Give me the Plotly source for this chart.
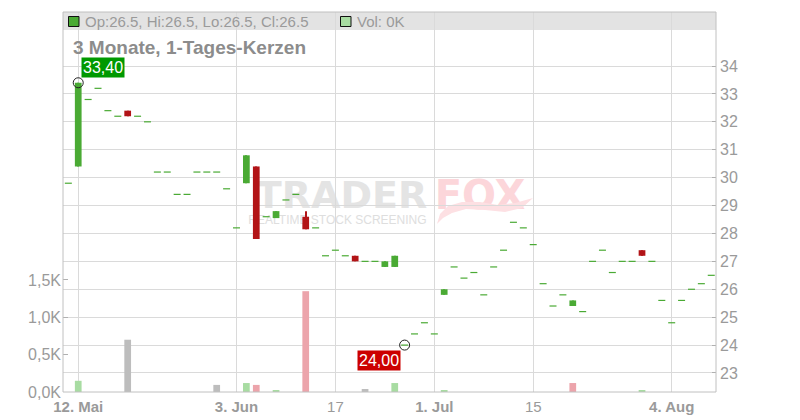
import plotly.graph_objects as go
import pandas as pd

# ---------------- data ----------------
dates = pd.bdate_range("2025-05-09", "2025-08-08").strftime("%Y-%m-%d").tolist()

open_ = [29.8, 30.4, 32.8, 33.2, 32.4, 32.2, 32.4, 32.2, 32.0, 30.2, 30.2, 29.4, 29.4, 30.2, 30.2, 30.2,
         29.6, 28.2, 29.8, 30.4, 28.6, 28.55, 29.2, 29.4, 28.6, 28.2, 27.2, 27.4, 27.2, 27.2, 27.0, 27.0,
         26.8, 26.8, 24.0, 24.4, 24.8, 24.4, 25.8, 26.8, 26.4, 26.6, 25.8, 26.8, 27.4, 28.4, 28.2, 27.6,
         26.2, 25.4, 25.8, 25.4, 25.2, 27.0, 27.4, 26.6, 27.0, 27.0, 27.4, 27.0, 25.6, 24.8, 25.6, 26.0,
         26.2, 26.5]
high = [29.8, 33.4, 32.8, 33.2, 32.4, 32.2, 32.4, 32.2, 32.0, 30.2, 30.2, 29.4, 29.4, 30.2, 30.2, 30.2,
        29.6, 28.2, 30.8, 30.4, 28.6, 28.8, 29.2, 29.4, 28.8, 28.2, 27.2, 27.4, 27.2, 27.2, 27.0, 27.0,
        27.0, 27.2, 24.0, 24.4, 24.8, 24.4, 26.0, 26.8, 26.4, 26.6, 25.8, 26.8, 27.4, 28.4, 28.2, 27.6,
        26.2, 25.4, 25.8, 25.6, 25.2, 27.0, 27.4, 26.6, 27.0, 27.0, 27.4, 27.0, 25.6, 24.8, 25.6, 26.0,
        26.2, 26.5]
low = [29.8, 30.4, 32.8, 33.2, 32.4, 32.2, 32.2, 32.2, 32.0, 30.2, 30.2, 29.4, 29.4, 30.2, 30.2, 30.2,
       29.6, 28.2, 29.8, 27.8, 28.6, 28.55, 29.2, 29.4, 28.15, 28.2, 27.2, 27.4, 27.2, 27.0, 27.0, 27.0,
       26.8, 26.8, 24.0, 24.4, 24.8, 24.4, 25.8, 26.8, 26.4, 26.6, 25.8, 26.8, 27.4, 28.4, 28.2, 27.6,
       26.2, 25.4, 25.8, 25.4, 25.2, 27.0, 27.4, 26.6, 27.0, 27.0, 27.2, 27.0, 25.6, 24.8, 25.6, 26.0,
       26.2, 26.5]
close = [29.8, 33.4, 32.8, 33.2, 32.4, 32.2, 32.2, 32.2, 32.0, 30.2, 30.2, 29.4, 29.4, 30.2, 30.2, 30.2,
         29.6, 28.2, 30.8, 27.8, 28.6, 28.8, 29.2, 29.4, 28.15, 28.2, 27.2, 27.4, 27.2, 27.0, 27.0, 27.0,
         27.0, 27.2, 24.0, 24.4, 24.8, 24.4, 26.0, 26.8, 26.4, 26.6, 25.8, 26.8, 27.4, 28.4, 28.2, 27.6,
         26.2, 25.4, 25.8, 25.6, 25.2, 27.0, 27.4, 26.6, 27.0, 27.0, 27.2, 27.0, 25.6, 24.8, 25.6, 26.0,
         26.2, 26.5]
volume = [0, 150, 0, 0, 0, 0, 700, 0, 0, 0, 0, 0, 0, 0, 0, 95,
          0, 0, 120, 95, 0, 25, 0, 0, 1350, 0, 0, 0, 0, 0, 40, 0,
          0, 120, 0, 0, 0, 0, 25, 0, 0, 0, 0, 0, 0, 0, 0, 0,
          0, 0, 0, 120, 0, 0, 0, 0, 0, 0, 15, 0, 0, 0, 0, 0,
          0, 0]

tick_dates = ["2025-05-12", "2025-06-03", "2025-06-17", "2025-07-01", "2025-07-15", "2025-08-04"]
tick_text = ["<b>12. Mai</b>", "<b>3. Jun</b>", "17", "<b>1. Jul</b>", "15", "<b>4. Aug</b>"]
price_ticks = [23, 24, 25, 26, 27, 28, 29, 30, 31, 32, 33, 34]
vol_ticks = [0, 500, 1000, 1500]
vol_tick_text = ["0,0K", "0,5K", "1,0K", "1,5K"]
title_text = "3 Monate, 1-Tages-Kerzen"

# ---------------- styles ----------------
GREEN = "#4aaa34"
RED = "#b21417"
VOL_UP = "#a8dca2"
VOL_DOWN = "#eca4ab"
VOL_FLAT = "#bdbdbd"
GRID = "#dadada"
FRAME = "#c0c0c0"
TXT = "#9a9a9a"
FONT = "Liberation Sans, Arial, sans-serif"

# page body has an 8px default margin -> compensate so the plot area sits at (63..716, 12..392)
OFF = 8
W, H = 800, 420
PL, PT, PW, PH = 63, 12, 653, 380
L = PL - OFF
T = PT - OFF
R = W - L - PW
B = H - T - PH


def px(x):
    return (x - PL) / PW


def py(y):
    return (PT + PH - y) / PH


# derived marks
body_x, body_base, body_h, body_col, wick_low, wick_len = [], [], [], [], [], []
doji_x, doji_y = [], []
for d, o, h, l, c in zip(dates, open_, high, low, close):
    if o == c:
        doji_x.append(d)
        doji_y.append(c)
    else:
        body_x.append(d)
        body_base.append(min(o, c))
        body_h.append(abs(c - o))
        body_col.append(GREEN if c > o else RED)
        wick_low.append(l)
        wick_len.append(h - l)

vol_col = []
for i, c in enumerate(close):
    if i == 0 or c == close[i - 1]:
        vol_col.append(VOL_FLAT)
    elif c > close[i - 1]:
        vol_col.append(VOL_UP)
    else:
        vol_col.append(VOL_DOWN)

imax = max(range(len(high)), key=lambda i: high[i])
imin = min(range(len(low)), key=lambda i: low[i])

fig = go.Figure()

fig.add_trace(go.Bar(x=dates, y=volume, yaxis="y2", width=0.68,
                     marker=dict(color=vol_col, line=dict(width=0)), hoverinfo="skip"))
fig.add_trace(go.Bar(x=body_x, base=wick_low, y=wick_len, width=0.12,
                     marker=dict(color=body_col, line=dict(width=0)), hoverinfo="skip"))
fig.add_trace(go.Bar(x=body_x, base=body_base, y=body_h, width=0.68,
                     marker=dict(color=body_col, line=dict(width=0))))
fig.add_trace(go.Scatter(x=doji_x, y=doji_y, mode="markers",
                         marker=dict(symbol="line-ew", size=5, color=GREEN,
                                     line=dict(color=GREEN, width=1.2))))
fig.add_trace(go.Scatter(x=[dates[imax], dates[imin]], y=[high[imax], low[imin]], mode="markers",
                         marker=dict(symbol="circle-open", size=10, color="#222222",
                                     line=dict(color="#222222", width=1))))


def fmt(v):
    return f"{v:.2f}".replace(".", ",")


annotations = [
    dict(x=dates[imax], y=high[imax], xref="x", yref="y", text=fmt(high[imax]), showarrow=False,
         xanchor="left", yanchor="bottom", xshift=3, yshift=5, bgcolor="#009900", borderpad=1,
         font=dict(color="white", size=16, family=FONT)),
    dict(x=dates[imin], y=low[imin], xref="x", yref="y", text=fmt(low[imin]), showarrow=False,
         xanchor="right", yanchor="top", xshift=-4, yshift=-5, bgcolor="#cc0000", borderpad=1,
         font=dict(color="white", size=16, family=FONT)),
    dict(x=px(71), y=py(48), xref="paper", yref="paper", text=f"<b>{title_text}</b>", showarrow=False,
         xanchor="left", yanchor="middle", font=dict(color="#8c8c8c", size=19, family=FONT)),
    dict(x=px(83), y=py(21.5), xref="paper", yref="paper",
         text=f"Op:{open_[-1]}, Hi:{high[-1]}, Lo:{low[-1]}, Cl:{close[-1]}", showarrow=False,
         xanchor="left", yanchor="middle", font=dict(color=TXT, size=15, family=FONT)),
    dict(x=px(355), y=py(21.5), xref="paper", yref="paper",
         text=f"Vol: {volume[-1] / 1000:.0f}K", showarrow=False,
         xanchor="left", yanchor="middle", font=dict(color=TXT, size=15, family=FONT)),
]


def box_path(pts):
    return "M " + " L ".join(f"{px(a):.5f},{py(b):.5f}" for a, b in pts) + " Z"


shapes = [
    # header band
    dict(type="rect", xref="paper", yref="paper", x0=0, x1=1, y0=py(30), y1=1,
         fillcolor="#e3e3e3", line=dict(width=0), layer="below"),
    # watermark
    dict(type="rect", xref="paper", yref="paper", x0=px(255), x1=px(428), y0=py(206), y1=py(178),
         fillcolor="rgba(0,0,0,0)", line=dict(width=0), layer="below",
         label=dict(text="<b>TRADER</b>", textposition="middle center",
                    font=dict(size=38, color="#e4e4e4", family="DejaVu Sans"))),
    dict(type="rect", xref="paper", yref="paper", x0=px(430), x1=px(530), y0=py(206), y1=py(178),
         fillcolor="rgba(0,0,0,0)", line=dict(width=0), layer="below",
         label=dict(text="<b>FOX</b>", textposition="middle center",
                    font=dict(size=40, color="#fcd6da", family="DejaVu Sans"))),
    dict(type="rect", xref="paper", yref="paper", x0=px(245), x1=px(430), y0=py(225), y1=py(213),
         fillcolor="rgba(0,0,0,0)", line=dict(width=0), layer="below",
         label=dict(text="REALTIME STOCK SCREENING", textposition="middle center",
                    font=dict(size=12, color="#dedede", family=FONT))),
    dict(type="path", xref="paper", yref="paper", layer="below", line=dict(width=0),
         fillcolor="#fde0e3",
         path=box_path([(437, 224), (440, 214), (448, 206), (462, 202), (480, 202), (498, 205),
                        (515, 203), (533, 198), (522, 208), (505, 212), (485, 210), (466, 209),
                        (452, 213), (443, 218)])),
    # frame
    dict(type="rect", xref="paper", yref="paper", x0=0, x1=1, y0=0, y1=1,
         fillcolor="rgba(0,0,0,0)", line=dict(color=FRAME, width=1), layer="above"),
    # legend squares
    dict(type="rect", xref="paper", yref="paper", x0=px(68.5), x1=px(79), y0=py(26.5), y1=py(16.5),
         fillcolor=GREEN, line=dict(color="#111111", width=1), layer="above"),
    dict(type="rect", xref="paper", yref="paper", x0=px(340.5), x1=px(351), y0=py(26.5), y1=py(16.5),
         fillcolor=VOL_UP, line=dict(color="#111111", width=1), layer="above"),
]

price_lo = 22.319
price_hi = 35.935

fig.update_layout(
    width=W, height=H,
    margin=dict(l=L, r=R, t=T, b=B, pad=0, autoexpand=False),
    paper_bgcolor="white", plot_bgcolor="white",
    showlegend=False, barmode="overlay",
    font=dict(family=FONT, color=TXT),
    xaxis=dict(type="category", range=[-0.54, 65.48], tickmode="array", automargin=False,
               tickvals=tick_dates, ticktext=tick_text, showgrid=True, gridcolor=GRID, gridwidth=1,
               ticks="", showline=False, zeroline=False, ticklabelstandoff=4,
               tickfont=dict(size=15, color=TXT, family=FONT)),
    yaxis=dict(side="right", range=[price_lo, price_hi], tickmode="array", automargin=False,
               tickvals=price_ticks, ticktext=[str(v) for v in price_ticks],
               showgrid=True, gridcolor=GRID, gridwidth=1, zeroline=False,
               ticks="inside", ticklen=4, tickcolor="#b0b0b0", showline=False,
               ticklabelstandoff=3,
               tickfont=dict(size=16, color=TXT, family=FONT)),
    yaxis2=dict(side="left", overlaying="y", range=[0, 5089], tickmode="array", automargin=False,
                tickvals=vol_ticks, ticktext=vol_tick_text, showgrid=False, zeroline=False,
                ticks="inside", ticklen=5, tickcolor="#b0b0b0", showline=False,
                ticklabelstandoff=1,
                tickfont=dict(size=16, color=TXT, family=FONT)),
    annotations=annotations,
    shapes=shapes,
)

fig.write_html("out.html")
